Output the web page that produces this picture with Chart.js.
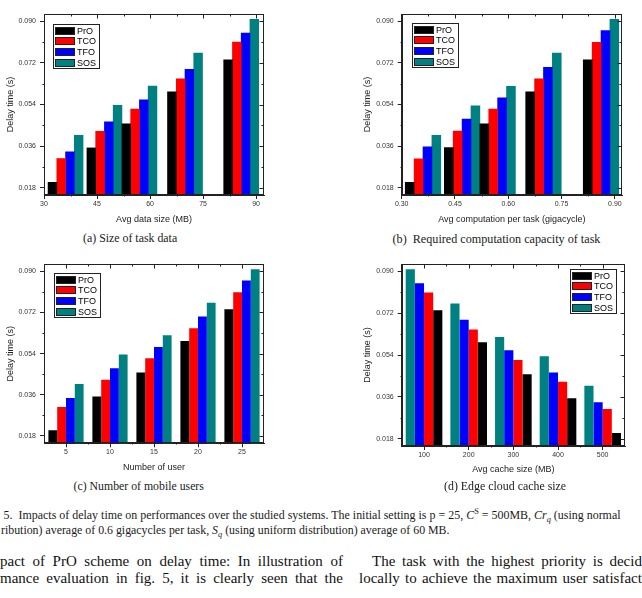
<!DOCTYPE html>
<html>
<head>
<meta charset="utf-8">
<script src="https://cdn.jsdelivr.net/npm/chart.js@4.4.0/dist/chart.umd.min.js"></script>
<style>
    html, body { margin: 0; padding: 0; background: #fff; }
    body { width: 642px; height: 598px; position: relative; overflow: hidden; }
    canvas { position: absolute; }
    .cap, .figcap {
        position: absolute;
        font-family: "Liberation Serif", "Times New Roman", serif;
        color: #1a1a1a;
        white-space: nowrap;
        line-height: 1;
    }
    .cap { font-size: 12px; }
    .figcap { font-size: 11px; }
    .figcap i { font-style: italic; }
    .figcap sup, .figcap sub { font-size: 70%; line-height: 0; }
    .txt {
        position: absolute;
        display: flex;
        justify-content: space-between;
        font-family: "Liberation Serif", "Times New Roman", serif;
        font-size: 15px;
        line-height: 1;
        color: #111;
        white-space: nowrap;
    }
</style>
</head>
<body>
<canvas id="chartA" width="321" height="230" style="left:0;top:0"></canvas>
<canvas id="chartB" width="321" height="230" style="left:321px;top:0"></canvas>
<canvas id="chartC" width="321" height="228" style="left:0;top:250px"></canvas>
<canvas id="chartD" width="321" height="230" style="left:321px;top:250px"></canvas>

<div class="cap" id="capA">(a) Size of task data</div>
<div class="cap" id="capB">(b)&nbsp; Required computation capacity of task</div>
<div class="cap" id="capC">(c) Number of mobile users</div>
<div class="cap" id="capD">(d) Edge cloud cache size</div>

<div class="figcap" id="fig1">5.&nbsp; Impacts of delay time on performances over the studied systems. The initial setting is p = 25, <i>C</i><sup>S</sup> = 500MB, <i>Cr<sub>q</sub></i> (using normal</div>
<div class="figcap" id="fig2">ribution) average of 0.6 gigacycles per task, <i>S<sub>q</sub></i> (using uniform distribution) average of 60 MB.</div>

<div class="txt" id="body1">pact of PrO scheme on delay time: In illustration of</div>
<div class="txt" id="body2">mance evaluation in fig. 5, it is clearly seen that the</div>
<div class="txt" id="body3">The task with the highest priority is decid</div>
<div class="txt" id="body4">locally to achieve the maximum user satisfact</div>

<script>
// series names and colours
const seriesNames = ['PrO', 'TCO', 'TFO', 'SOS'];
const seriesColors = { PrO: '#000000', TCO: '#ff0000', TFO: '#0000ff', SOS: '#008080' };

// shared y axis
const delayTicks = [0.018, 0.036, 0.054, 0.072, 0.090];

// (a) size of task data
const dataSizeTicks = [30, 45, 60, 75, 90];
const dataSizeGroups = [36.1, 47.1, 57.0, 69.9, 85.8];
const proA = [0.0203, 0.0352, 0.0456, 0.0595, 0.0734];
const tcoA = [0.0306, 0.0424, 0.0520, 0.0651, 0.0810];
const tfoA = [0.0335, 0.0465, 0.0560, 0.0692, 0.0849];
const sosA = [0.0407, 0.0536, 0.0620, 0.0763, 0.0909];

// (b) required computation capacity
const compTicks = [0.30, 0.45, 0.60, 0.75, 0.90];
const compGroups = [0.360, 0.470, 0.570, 0.699, 0.861];
const proB = [0.0203, 0.0353, 0.0456, 0.0595, 0.0734];
const tcoB = [0.0305, 0.0425, 0.0520, 0.0651, 0.0809];
const tfoB = [0.0357, 0.0477, 0.0569, 0.0701, 0.0860];
const sosB = [0.0406, 0.0534, 0.0619, 0.0763, 0.0909];

// (c) number of mobile users
const userLabels = ['5', '10', '15', '20', '25'];
const proC = [0.0205, 0.0353, 0.0458, 0.0595, 0.0734];
const tcoC = [0.0307, 0.0426, 0.0520, 0.0651, 0.0809];
const tfoC = [0.0346, 0.0476, 0.0569, 0.0702, 0.0860];
const sosC = [0.0407, 0.0536, 0.0620, 0.0763, 0.0909];

// (d) edge cloud cache size
const cacheLabels = ['100', '200', '300', '400', '500'];
const proD = [0.0733, 0.0595, 0.0457, 0.0354, 0.0204];
const tcoD = [0.0809, 0.0650, 0.0519, 0.0425, 0.0307];
const tfoD = [0.0849, 0.0692, 0.0561, 0.0465, 0.0337];
const sosD = [0.0909, 0.0762, 0.0618, 0.0535, 0.0408];

const sansFont = '"Liberation Sans", Arial, sans-serif';
const lineColor = '#222';

// box around the plot, inner ticks on top/right, minor ticks
const framePlugin = {
    id: 'frame',
    afterDraw(chart) {
        const { ctx, chartArea: a } = chart;
        const x = chart.scales.x, y = chart.scales.y;
        const L = Math.round(a.left) + 0.5, R = Math.round(a.right) - 0.5;
        const T = Math.round(a.top) + 0.5, B = Math.round(a.bottom) - 0.5;
        ctx.save();
        ctx.strokeStyle = lineColor;
        ctx.lineWidth = 1;
        ctx.strokeRect(L, T, R - L, B - T);

        const xs = x.ticks.map((t, i) => x.getPixelForTick(i));
        const ys = y.ticks.map((t, i) => y.getPixelForTick(i));
        const mids = arr => arr.slice(1).map((p, i) => (p + arr[i]) / 2);

        ctx.beginPath();
        xs.forEach(p => { p = Math.round(p) + 0.5; ctx.moveTo(p, T); ctx.lineTo(p, T + 4); });
        mids(xs).forEach(p => {
            p = Math.round(p) + 0.5;
            ctx.moveTo(p, T); ctx.lineTo(p, T + 2);
            ctx.moveTo(p, B); ctx.lineTo(p, B + 2);
        });
        ys.forEach(p => { p = Math.round(p) + 0.5; ctx.moveTo(R, p); ctx.lineTo(R - 4, p); });
        mids(ys).forEach(p => {
            p = Math.round(p) + 0.5;
            ctx.moveTo(R, p); ctx.lineTo(R - 2, p);
            ctx.moveTo(L, p); ctx.lineTo(L - 2, p);
        });
        ctx.stroke();
        ctx.restore();
    }
};

// legend with a frame, drawn inside the plot
const boxLegend = {
    id: 'boxLegend',
    afterDraw(chart, args, opts) {
        const { ctx, chartArea: a } = chart;
        const w = 46, h = 44;
        const x0 = Math.round(opts.side === 'right' ? a.right - opts.dx - w : a.left + opts.dx);
        const y0 = Math.round(a.top + opts.dy);
        ctx.save();
        ctx.fillStyle = '#fff';
        ctx.fillRect(x0, y0, w, h);
        ctx.strokeStyle = lineColor;
        ctx.lineWidth = 1;
        ctx.strokeRect(x0 + 0.5, y0 + 0.5, w, h);
        ctx.font = '9px ' + sansFont;
        ctx.textBaseline = 'middle';
        seriesNames.forEach((name, i) => {
            const cy = Math.round(y0 + 6.5 + i * 10.7);
            ctx.fillStyle = seriesColors[name];
            ctx.fillRect(x0 + 2, cy - 4, 20, 8);
            ctx.strokeRect(x0 + 2.5, cy - 3.5, 19, 7);
            ctx.fillStyle = '#000';
            ctx.fillText(name, x0 + 24, cy + 0.5);
        });
        ctx.restore();
    }
};

function makeDatasets(order, values, xs) {
    return order.map(name => ({
        label: name,
        data: xs ? values[name].map((v, i) => ({ x: xs[i], y: v })) : values[name],
        backgroundColor: seriesColors[name],
        borderWidth: 0
    }));
}

function axisCommon(title, width, height) {
    return {
        grid: { display: true, drawOnChartArea: false, drawTicks: true, tickLength: 4, color: lineColor, offset: false },
        border: { display: true, color: lineColor, width: 1 },
        title: {
            display: true,
            text: title,
            color: '#222',
            font: { family: sansFont, size: 9 },
            padding: { top: 5, bottom: 5 }
        },
        ticks: { color: '#333', font: { family: sansFont, size: 7 }, maxRotation: 0, autoSkip: false },
        afterFit: s => {
            if (width) s.width = width;
            if (height) s.height = height;
        }
    };
}

function makeChart(id, cfg) {
    const xBase = axisCommon(cfg.xTitle, null, cfg.xHeight);
    let xScale;
    if (cfg.xTicks) {
        xScale = Object.assign(xBase, {
            type: 'linear',
            offset: false,
            min: cfg.xMin,
            max: cfg.xMax,
            afterBuildTicks: s => { s.ticks = cfg.xTicks.map(v => ({ value: v })); }
        });
        xScale.ticks = Object.assign(xScale.ticks, { padding: 1, callback: cfg.xFormat });
    } else {
        xScale = Object.assign(xBase, { type: 'category', offset: true });
        xScale.ticks.padding = 1;
    }
    const yScale = Object.assign(axisCommon('Delay time (s)', cfg.yWidth, null), {
        type: 'linear',
        min: 0.0148,
        max: 0.0932,
        afterBuildTicks: s => { s.ticks = delayTicks.map(v => ({ value: v })); }
    });
    yScale.ticks = Object.assign(yScale.ticks, { padding: 4, callback: v => v.toFixed(3) });

    return new Chart(document.getElementById(id), {
        type: 'bar',
        data: {
            labels: cfg.labels,
            datasets: cfg.datasets
        },
        options: {
            responsive: false,
            animation: false,
            devicePixelRatio: 1,
            layout: { padding: cfg.padding },
            datasets: {
                bar: { categoryPercentage: cfg.catPct, barPercentage: 1 }
            },
            plugins: {
                legend: { display: false },
                tooltip: { enabled: false },
                boxLegend: cfg.legend
            },
            scales: { x: xScale, y: yScale }
        },
        plugins: [framePlugin, boxLegend]
    });
}

makeChart('chartA', {
    xTitle: 'Avg data size (MB)',
    xTicks: dataSizeTicks, xMin: 30, xMax: 92.25, xFormat: v => String(v),
    datasets: makeDatasets(seriesNames, { PrO: proA, TCO: tcoA, TFO: tfoA, SOS: sosA }, dataSizeGroups),
    catPct: 1,
    padding: { left: 0, top: 14, right: 57, bottom: 0 },
    yWidth: 44, xHeight: 35,
    legend: { side: 'left', dx: 9, dy: 10 }
});

makeChart('chartB', {
    xTitle: 'Avg computation per task (gigacycle)',
    xTicks: compTicks, xMin: 0.30, xMax: 0.92, xFormat: v => v.toFixed(2),
    datasets: makeDatasets(seriesNames, { PrO: proB, TCO: tcoB, TFO: tfoB, SOS: sosB }, compGroups),
    catPct: 1,
    padding: { left: 36, top: 14, right: 20, bottom: 0 },
    yWidth: 44.7, xHeight: 35,
    legend: { side: 'left', dx: 10, dy: 9 }
});

makeChart('chartC', {
    xTitle: 'Number of user',
    labels: userLabels,
    datasets: makeDatasets(seriesNames, { PrO: proC, TCO: tcoC, TFO: tfoC, SOS: sosC }),
    catPct: 0.8,
    padding: { left: 0, top: 14, right: 57, bottom: 0 },
    yWidth: 44, xHeight: 34.7,
    legend: { side: 'left', dx: 10, dy: 9 }
});

makeChart('chartD', {
    xTitle: 'Avg cache size (MB)',
    labels: cacheLabels,
    datasets: makeDatasets(['SOS', 'TFO', 'TCO', 'PrO'], { PrO: proD, TCO: tcoD, TFO: tfoD, SOS: sosD }),
    catPct: 0.82,
    padding: { left: 36, top: 14, right: 17, bottom: 0 },
    yWidth: 44.7, xHeight: 34,
    legend: { side: 'right', dx: 9, dy: 5 }
});

// captions: fit to the measured width, centred on the given point
function place(id, cx, cy, width) {
    const el = document.getElementById(id);
    const base = parseFloat(getComputedStyle(el).fontSize);
    el.style.fontSize = (base * width / el.offsetWidth) + 'px';
    el.style.left = (cx - el.offsetWidth / 2) + 'px';
    el.style.top = (cy - el.offsetHeight / 2) + 'px';
}
place('capA', 130, 239, 94);
place('capB', 496.5, 239, 208);
place('capC', 138.5, 487, 131);
place('capD', 505, 487, 122);
place('fig1', 312, 516, 618);
place('fig2', 225, 531, 449);

// justified body text lines, split into words
function justify(id, left, right, cy) {
    const el = document.getElementById(id);
    const words = el.textContent.trim().split(/\s+/);
    el.textContent = '';
    words.forEach(w => {
        const s = document.createElement('span');
        s.textContent = w;
        el.appendChild(s);
    });
    el.style.left = left + 'px';
    el.style.width = (right - left) + 'px';
    el.style.top = (cy - el.offsetHeight / 2) + 'px';
}
justify('body1', 0, 343, 561);
justify('body2', 0, 343, 578);
justify('body3', 372, 642, 561);
justify('body4', 359, 642, 578);
</script>
</body>
</html>
